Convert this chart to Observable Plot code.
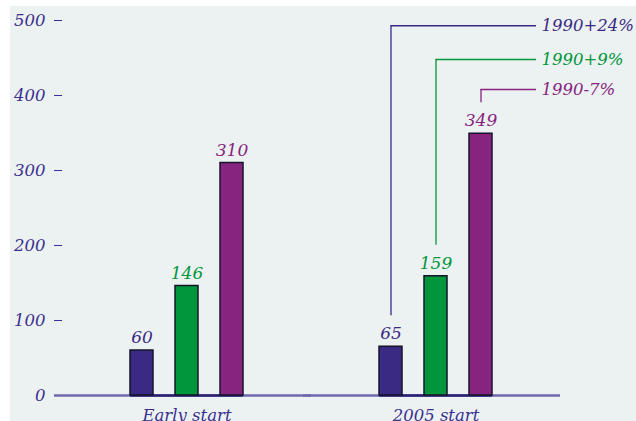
<!DOCTYPE html>
<html>
<head>
<meta charset="utf-8">
<script src="https://cdn.jsdelivr.net/npm/d3@7"></script>
<script src="https://cdn.jsdelivr.net/npm/@observablehq/plot@0.6"></script>
<style>
  html, body { margin: 0; padding: 0; background: #ffffff; width: 636px; height: 421px; overflow: hidden; }
  #panel { position: absolute; left: 10px; top: 6px; right: 0; bottom: 0; background: #ecf1f1; }
  #chart { position: absolute; left: 0; top: 0; }
</style>
</head>
<body>
<div id="panel"></div>
<div id="chart"></div>
<script>
// ---- data ----
const groups = ["Early start", "2005 start"];
const series = ["Series 1", "Series 2", "Series 3"];
const earlyStart = [60, 146, 310];
const start2005 = [65, 159, 349];
const change1990 = ["1990+24%", "1990+9%", "1990-7%"];
const yTicks = [0, 100, 200, 300, 400, 500];

// ---- annotation layout (leader line heights, in axis units) ----
const leaderLevels = [493, 448, 408];

const colors = ["#3a2a84", "#00963c", "#87247f"];
const groupValues = [earlyStart, start2005];

const table = groups.flatMap((g, gi) =>
  series.map((s, si) => ({
    group: g,
    series: s,
    value: groupValues[gi][si],
    note: gi === 1 ? change1990[si] : null,
    level: leaderLevels[si]
  }))
);

const chart = Plot.plot({
  width: 636,
  height: 421,
  marginTop: 20,
  marginBottom: 26,
  marginLeft: 62,
  marginRight: 76,
  style: {
    background: "transparent",
    fontFamily: "'DejaVu Serif', serif",
    fontStyle: "italic",
    fontSize: "16.5px",
    color: "#3b3090",
    overflow: "visible"
  },
  facet: {data: table, x: "group"},
  fx: {domain: groups, padding: 0, axis: "bottom", tickSize: 0, tickPadding: 14, label: null},
  x: {domain: series, paddingInner: 0.489, paddingOuter: 1.511, axis: null},
  y: {domain: [0, 500], ticks: yTicks, tickSize: 8, tickPadding: 9, label: null, tickFormat: d => String(d)},
  color: {domain: series, range: colors},
  marks: [
    Plot.ruleY([0], {stroke: "#7068ad", strokeWidth: 2.5, insetLeft: -8}),
    Plot.ruleY([0], {x1: () => series[0], x2: () => series[2], stroke: "#2a2070", strokeWidth: 2.5}),
    Plot.barY(table, {x: "series", y: "value", fill: "series", stroke: "#15152a", strokeWidth: 1.5}),
    Plot.text(table, {
      x: "series", y: "value", text: d => String(d.value), fill: "series",
      lineAnchor: "bottom", dy: -7.5, fontSize: 17, fontStyle: "italic"
    }),
    Plot.ruleX(table, {
      filter: d => d.note, x: "series", y1: "level", y2: "value",
      stroke: "series", strokeWidth: 1.3, insetBottom: 31
    }),
    Plot.ruleY(table, {
      filter: d => d.note, x1: "series", x2: () => series[2], y: "level",
      stroke: "series", strokeWidth: 1.3, insetLeft: 11.5, insetRight: -44
    }),
    Plot.text(table, {
      filter: d => d.note, y: "level", text: "note", fill: "series",
      frameAnchor: "right", textAnchor: "start", dx: -19, lineAnchor: "middle",
      fontSize: 16.5, fontStyle: "italic"
    })
  ]
});
document.getElementById("chart").appendChild(chart);
</script>
</body>
</html>
